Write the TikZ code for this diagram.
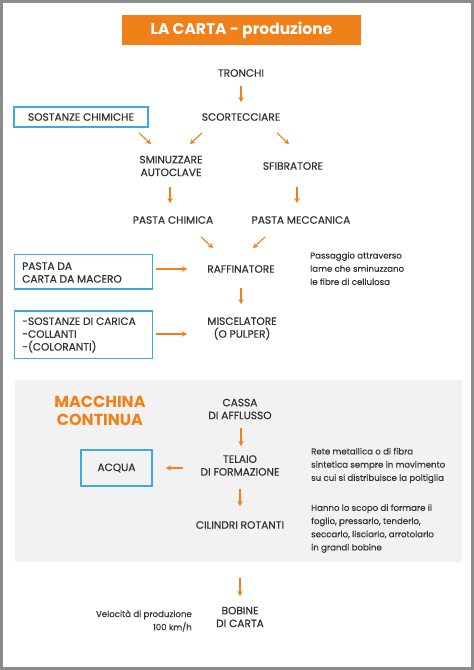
\documentclass[tikz,border=0pt]{standalone}
\usepackage{fontspec}
\setmainfont{Poppins}
\newfontfamily\medfont[FakeBold=0.6]{Poppins}
\newfontfamily\notefont[FakeBold=0.25]{Poppins}
\usetikzlibrary{arrows.meta}
\definecolor{org}{HTML}{F08019}
\definecolor{txt}{HTML}{333333}
\definecolor{bbl}{HTML}{3FA9DA}
\definecolor{panel}{HTML}{F2F2F2}
\definecolor{frm}{HTML}{8C8C8C}
\tikzset{
  lbl/.style={text=txt, font=\medfont\fontsize{10.6}{12.8}\selectfont, align=center, inner sep=0pt},
  note/.style={text=txt, font=\notefont\fontsize{8.6}{13.2}\selectfont, align=left, anchor=west, inner sep=0pt},
  boxed/.style={draw=bbl, line width=1.2pt, text=txt, font=\medfont\fontsize{10.6}{12.8}\selectfont, inner sep=0pt},
  arr/.style={draw=org, line width=1.1pt, -{Stealth[length=5pt,width=5.5pt]}, shorten >=0pt}
}
\begin{document}
\begin{tikzpicture}[x=1pt,y=-1pt]
\useasboundingbox (0,0) rectangle (474,670);
\fill[white] (0,0) rectangle (474,670);
\draw[frm, line width=3pt] (1.5,1.5) rectangle (472.5,668.5);
% title
\node[fill=org, minimum width=239pt, minimum height=30pt, inner sep=0pt, text=white,
      font=\bfseries\fontsize{15.5}{17}\selectfont] (title) at (241.5,30) {LA CARTA - produzione};
% top part
\node[lbl] (tronchi) at (241,73) {TRONCHI};
\coordinate (a1s) at (241,86); \coordinate (a1e) at (241,102);
\draw[arr] (a1s) -- (a1e);
\node[boxed, minimum width=134pt, minimum height=20pt] (sost) at (81,117) {SOSTANZE CHIMICHE};
\node[lbl] (scort) at (241,117) {SCORTECCIARE};
\coordinate (b1s) at (139,133); \coordinate (b1e) at (151,144);
\coordinate (b2s) at (202,133); \coordinate (b2e) at (190,144);
\coordinate (b3s) at (277,133); \coordinate (b3e) at (289,144);
\draw[arr] (b1s) -- (b1e);
\draw[arr] (b2s) -- (b2e);
\draw[arr] (b3s) -- (b3e);
\node[lbl] (smin) at (171,166) {SMINUZZARE\\AUTOCLAVE};
\node[lbl] (sfib) at (293,166) {SFIBRATORE};
\coordinate (c1s) at (170,187); \coordinate (c1e) at (170,203);
\coordinate (c2s) at (297,187); \coordinate (c2e) at (297,203);
\draw[arr] (c1s) -- (c1e);
\draw[arr] (c2s) -- (c2e);
\node[lbl] (pchim) at (173,220) {PASTA CHIMICA};
\node[lbl] (pmecc) at (301,220) {PASTA MECCANICA};
\coordinate (d1s) at (201,237); \coordinate (d1e) at (213,248);
\coordinate (d2s) at (265,237); \coordinate (d2e) at (253,248);
\draw[arr] (d1s) -- (d1e);
\draw[arr] (d2s) -- (d2e);
\draw[bbl, line width=1.2pt] (14.5,254.5) rectangle (152.5,289);
\node[lbl, align=left, anchor=west] (macero) at (22,272.5) {PASTA DA\\CARTA DA MACERO};
\coordinate (e1s) at (156,269); \coordinate (e1e) at (187,269);
\draw[arr] (e1s) -- (e1e);
\node[lbl] (raff) at (241,269) {RAFFINATORE};
\node[note] (pass) at (310,268.5) {Passaggio attraverso\\lame che sminuzzano\\le fibre di cellulosa};
\coordinate (f1s) at (241,288); \coordinate (f1e) at (241,304);
\draw[arr] (f1s) -- (f1e);
\draw[bbl, line width=1.2pt] (14.5,311) rectangle (152.5,358.5);
\node[lbl, align=left, anchor=west] (carica) at (22,335) {-SOSTANZE DI CARICA\\-COLLANTI\\-(COLORANTI)};
\coordinate (g1s) at (156,334); \coordinate (g1e) at (187,334);
\draw[arr] (g1s) -- (g1e);
\node[lbl] (misc) at (242,328.5) {MISCELATORE\\(O PULPER)};
% panel
\fill[panel] (15,380) rectangle (462,562);
\node[lbl, text=org, font=\bfseries\fontsize{16}{18.5}\selectfont] (mc) at (100,411) {MACCHINA\\CONTINUA};
\node[lbl] (cassa) at (240,409) {CASSA\\DI AFFLUSSO};
\coordinate (h1s) at (241,428); \coordinate (h1e) at (241,446);
\draw[arr] (h1s) -- (h1e);
\node[boxed, minimum width=71pt, minimum height=36pt] (acqua) at (116.5,468) {ACQUA};
\node[lbl] (telaio) at (240,465.5) {TELAIO\\DI FORMAZIONE};
\coordinate (i1s) at (183,468); \coordinate (i1e) at (166,468);
\draw[arr] (i1s) -- (i1e);
\node[note] (rete) at (311,465.5) {Rete metallica o di fibra\\sintetica sempre in movimento\\su cui si distribuisce la poltiglia};
\coordinate (j1s) at (240,489); \coordinate (j1e) at (240,506);
\draw[arr] (j1s) -- (j1e);
\node[lbl] (cil) at (240,525) {CILINDRI ROTANTI};
\node[note] (hanno) at (311,528.5) {Hanno lo scopo di formare il\\foglio, pressarlo, tenderlo,\\seccarlo, lisciarlo, arrotolarlo\\in grandi bobine};
% bottom
\coordinate (k1s) at (240,578); \coordinate (k1e) at (240,596);
\draw[arr] (k1s) -- (k1e);
\node[lbl] (bob) at (240,617) {BOBINE\\DI CARTA};
\node[note, anchor=east, align=right] (vel) at (192,621) {Velocità di produzione\\100 km/h};
\end{tikzpicture}
\end{document}
